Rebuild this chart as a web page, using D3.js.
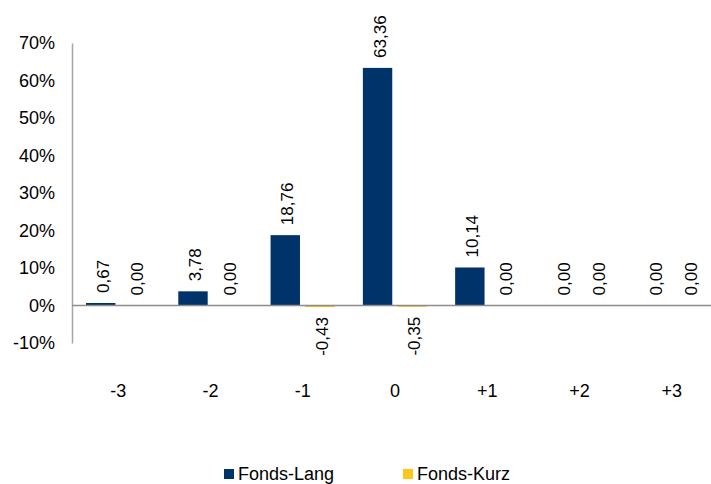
<!DOCTYPE html>
<html>
<head>
<meta charset="utf-8">
<script src="https://cdn.jsdelivr.net/npm/d3@7"></script>
<style>
  body { margin: 0; background: #fff; overflow: hidden; }
  text { font-family: "Liberation Sans", Arial, sans-serif; fill: #000; }
</style>
</head>
<body>
<div id="chart"></div>
<script>
var categories = ["-3", "-2", "-1", "0", "+1", "+2", "+3"];
var seriesNames = ["Fonds-Lang", "Fonds-Kurz"];
var lang = [0.67, 3.78, 18.76, 63.36, 10.14, 0.00, 0.00];
var kurz = [0.00, 0.00, -0.43, -0.35, 0.00, 0.00, 0.00];
var yTicks = [-10, 0, 10, 20, 30, 40, 50, 60, 70];
var colors = ["#00336a", "#ffc61e"];

var WIDTH = 711;
var HEIGHT = 484;

var svg = d3.select("#chart").append("svg")
    .attr("width", WIDTH)
    .attr("height", HEIGHT);

var x = d3.scaleBand().domain(categories).range([72, 718]).padding(0);
var x1 = d3.scaleBand().domain(seriesNames).range([14, 78]).paddingInner(0.15);
var y = d3.scaleLinear().domain([-10, 70]).range([343, 43]);

var fmt = function (v) { return v.toFixed(2).replace(".", ","); };

// y axis labels
var yAxis = d3.axisLeft(y).tickValues(yTicks).tickSize(0).tickPadding(17)
    .tickFormat(function (d) { return d + "%"; });
var gy = svg.append("g").attr("transform", "translate(72,0)").call(yAxis);
gy.select(".domain").attr("stroke", "#a6a6a6").attr("stroke-width", 1.5);
gy.selectAll("text").style("font-size", "18px")
    .style("font-family", "'Liberation Sans', Arial, sans-serif");

// bars
var rows = categories.map(function (c, i) {
    return { cat: c, vals: [lang[i], kurz[i]] };
});
var groups = svg.selectAll(".grp").data(rows).enter().append("g")
    .attr("transform", function (d) { return "translate(" + x(d.cat) + ",0)"; });

groups.selectAll("rect").data(function (d) {
    return d.vals.map(function (v, k) { return { s: seriesNames[k], v: v, k: k }; });
}).enter().append("rect")
    .attr("x", function (d) { return x1(d.s); })
    .attr("width", x1.bandwidth())
    .attr("y", function (d) { return y(Math.max(0, d.v)); })
    .attr("height", function (d) { return Math.abs(y(d.v) - y(0)); })
    .attr("fill", function (d) { return colors[d.k]; });

// value labels
groups.selectAll("text.lbl").data(function (d) {
    return d.vals.map(function (v, k) { return { s: seriesNames[k], v: v, k: k }; });
}).enter().append("text")
    .attr("class", "lbl")
    .attr("transform", function (d) {
        var cx = x1(d.s) + x1.bandwidth() / 2 + 2;
        var cy = d.v < 0 ? y(d.v) + 10 : y(d.v) - 10;
        return "translate(" + cx + "," + cy + ") rotate(-90)";
    })
    .attr("text-anchor", function (d) { return d.v < 0 ? "end" : "start"; })
    .attr("dy", "0.35em")
    .style("font-size", "17px")
    .text(function (d) { return fmt(d.v); });

// zero line
svg.append("line")
    .attr("x1", 72).attr("x2", WIDTH)
    .attr("y1", y(0)).attr("y2", y(0))
    .attr("stroke", "#8c8c8c").attr("stroke-width", 1.5);

// x axis labels
var xAxis = d3.axisBottom(x).tickSize(0).tickPadding(0);
var gx = svg.append("g").attr("transform", "translate(0,384)").call(xAxis);
gx.select(".domain").remove();
gx.selectAll("text").style("font-size", "18px")
    .style("font-family", "'Liberation Sans', Arial, sans-serif");

// legend
var legendX = [224, 403];
var legend = svg.selectAll(".leg").data(seriesNames).enter().append("g")
    .attr("transform", function (d, i) { return "translate(" + legendX[i] + ",469)"; });
legend.append("rect").attr("width", 10).attr("height", 10)
    .attr("fill", function (d, i) { return colors[i]; });
legend.append("text").attr("x", 14).attr("y", 11)
    .style("font-size", "18px")
    .text(function (d) { return d; });
</script>
</body>
</html>
